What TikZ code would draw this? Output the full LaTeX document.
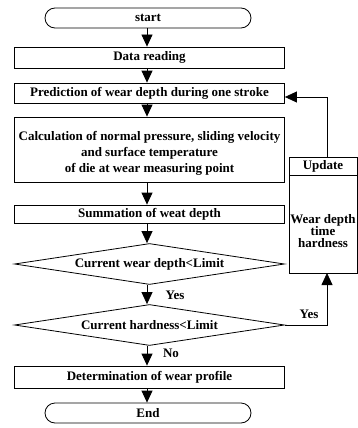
\documentclass[tikz,border=0pt]{standalone}
\usepackage{fontspec}
\setmainfont{Liberation Serif}
\usetikzlibrary{shapes.geometric,arrows.meta}
\begin{document}
\begin{tikzpicture}[x=1pt,y=-1pt,
  box/.style={draw,thick,minimum width=270pt,inner sep=0pt,align=center},
  term/.style={draw,thick,rounded corners=10pt,minimum width=206pt,minimum height=20pt,inner sep=0pt},
  dec/.style={draw,thick,diamond,shape aspect=6.4,inner sep=0pt,minimum width=270pt,minimum height=41pt},
  arr/.style={thick,-{Triangle[width=11pt,length=12pt]}},
  lbl/.style={inner sep=0pt},
  font=\fontsize{13}{13}\selectfont\bfseries]
\useasboundingbox (0,0) rectangle (358,428);
\node[term] (start) at (148,18) {start};
\node[box,minimum height=21pt] (data) at (149.5,57.5) {Data reading};
\node[box,minimum height=20pt] (pred) at (149.5,93) {Prediction of wear depth during one stroke};
\node[box,minimum height=65pt] (calc) at (149.5,149.5) {};
\node[lbl,align=center,font=\fontsize{13}{16}\selectfont\bfseries] (calct) at (149.5,153) {Calculation of normal pressure, sliding velocity\\and surface temperature\\of die at wear measuring point};
\node[box,minimum height=18pt] (summ) at (149.5,214) {Summation of weat depth};
\node[dec] (d1) at (149.5,264) {Current wear depth<Limit};
\node[dec] (d2) at (149.5,325) {Current hardness<Limit};
\node[box,minimum height=22pt] (det) at (149.5,377) {Determination of wear profile};
\node[term] (end) at (148,413) {End};
\node[draw,thick,minimum width=68pt,minimum height=116pt,inner sep=0pt] (upd) at (323,215) {};
\coordinate (updsep) at (289,175);
\draw[thick] (updsep) -- (updsep -| upd.east);
\node[lbl] (updt) at (323,166) {Update};
\node[lbl,align=center,font=\fontsize{13}{12}\selectfont\bfseries] (updv) at (323,231) {Wear depth\\time\\hardness};
\coordinate (fbtop) at (327,157);
\coordinate (fbbot) at (327,273);
\coordinate (fbin) at ([yshift=-4pt]pred.east);
\coordinate (a0) at (147,0);
\draw[arr] (start.south -| a0) -- (data.north -| a0);
\draw[arr] (data.south -| a0) -- (pred.north -| a0);
\draw[arr] (pred.south -| a0) -- (calc.north -| a0);
\draw[arr] (calc.south -| a0) -- (summ.north -| a0);
\draw[arr] (summ.south -| a0) -- (d1.north -| a0);
\draw[arr] (d1.south -| a0) -- (d2.north -| a0);
\draw[arr] (d2.south -| a0) -- (det.north -| a0);
\draw[arr] (det.south -| a0) -- (end.north -| a0);
\draw[arr] (d2.east) -| (fbbot);
\draw[arr] (fbtop) |- (fbin);
\node[lbl] (y1) at (175,295) {Yes};
\node[lbl] (y2) at (309,314) {Yes};
\node[lbl] (n1) at (171,353) {No};
\end{tikzpicture}
\end{document}
